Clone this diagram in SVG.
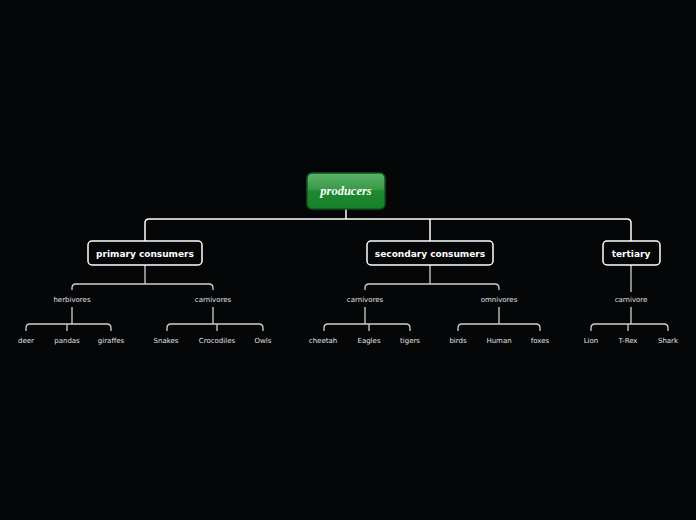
<svg xmlns="http://www.w3.org/2000/svg" width="696" height="520" viewBox="0 0 696 520">
<defs>
<style>
.l{fill:none;stroke:#cfcfcf;stroke-width:1.3}
.l1{fill:none;stroke:#ffffff;stroke-width:1.5}
.b{fill:#050608;stroke:#fff;stroke-width:1.5}
.t1{font-family:"DejaVu Sans",sans-serif;font-size:9px;font-weight:bold;fill:#fff;text-anchor:middle}
.t2{font-family:"DejaVu Sans",sans-serif;font-size:7px;fill:#e0e0e0;text-anchor:middle}
</style>
<linearGradient id="g" x1="0" y1="0" x2="0" y2="1">
<stop offset="0" stop-color="#5cb26a"/><stop offset="0.45" stop-color="#3a9a48"/><stop offset="0.5" stop-color="#1d8a30"/><stop offset="1" stop-color="#178028"/>
</linearGradient>
</defs>
<rect width="696" height="520" fill="#050608"/>
<g id="connectors">
<path class="l1" d="M346 209V219M145 241V223Q145 219 149 219H627Q631 219 631 223V241M430 219V241"/>
<path class="l" d="M145 265V284M72 290V288Q72 284 76 284H209Q213 284 213 288V290"/>
<path class="l" d="M430 265V284M365 290V288Q365 284 369 284H495Q499 284 499 288V290"/>
<path class="l" d="M631 265V292"/>
<path class="l" d="M72 307V324M26 331V328Q26 324 30 324H107Q111 324 111 328V331M67 324V331"/>
<path class="l" d="M213 307V324M167 331V328Q167 324 171 324H259Q263 324 263 328V331M217 324V331"/>
<path class="l" d="M365 307V324M324 331V328Q324 324 328 324H406Q410 324 410 328V331M369 324V331"/>
<path class="l" d="M499 307V324M458 331V328Q458 324 462 324H536Q540 324 540 328V331"/>
<path class="l" d="M631 307V324M591 331V328Q591 324 595 324H664Q668 324 668 328V331M628 324V331"/>
</g>
<g id="producers"><rect x="307" y="173" width="78" height="36" rx="5" fill="url(#g)" stroke="#11561c" stroke-width="1.5"/>
<text x="346" y="195" font-family="Liberation Serif,serif" font-size="12.5" font-style="italic" font-weight="bold" fill="#fff" text-anchor="middle">producers</text></g>
<g id="primary"><rect class="b" x="88" y="241" width="114" height="24" rx="4"/><text class="t1" x="145" y="257">primary consumers</text></g>
<g id="secondary"><rect class="b" x="367" y="241" width="126" height="24" rx="4"/><text class="t1" x="430" y="257">secondary consumers</text></g>
<g id="tertiary"><rect class="b" x="603" y="241" width="57" height="24" rx="4"/><text class="t1" x="631" y="257">tertiary</text></g>
<g id="l2">
<text class="t2" x="72" y="302">herbivores</text>
<text class="t2" x="213" y="302">carnivores</text>
<text class="t2" x="365" y="302">carnivores</text>
<text class="t2" x="499" y="302">omnivores</text>
<text class="t2" x="631" y="302">carnivore</text>
</g>
<g id="l3">
<text class="t2" x="26" y="343">deer</text><text class="t2" x="67" y="343">pandas</text><text class="t2" x="111" y="343">giraffes</text>
<text class="t2" x="166" y="343">Snakes</text><text class="t2" x="217" y="343">Crocodiles</text><text class="t2" x="263" y="343">Owls</text>
<text class="t2" x="323" y="343">cheetah</text><text class="t2" x="369" y="343">Eagles</text><text class="t2" x="410" y="343">tigers</text>
<text class="t2" x="458" y="343">birds</text><text class="t2" x="499" y="343">Human</text><text class="t2" x="540" y="343">foxes</text>
<text class="t2" x="591" y="343">Lion</text><text class="t2" x="628" y="343">T-Rex</text><text class="t2" x="668" y="343">Shark</text>
</g>
</svg>
